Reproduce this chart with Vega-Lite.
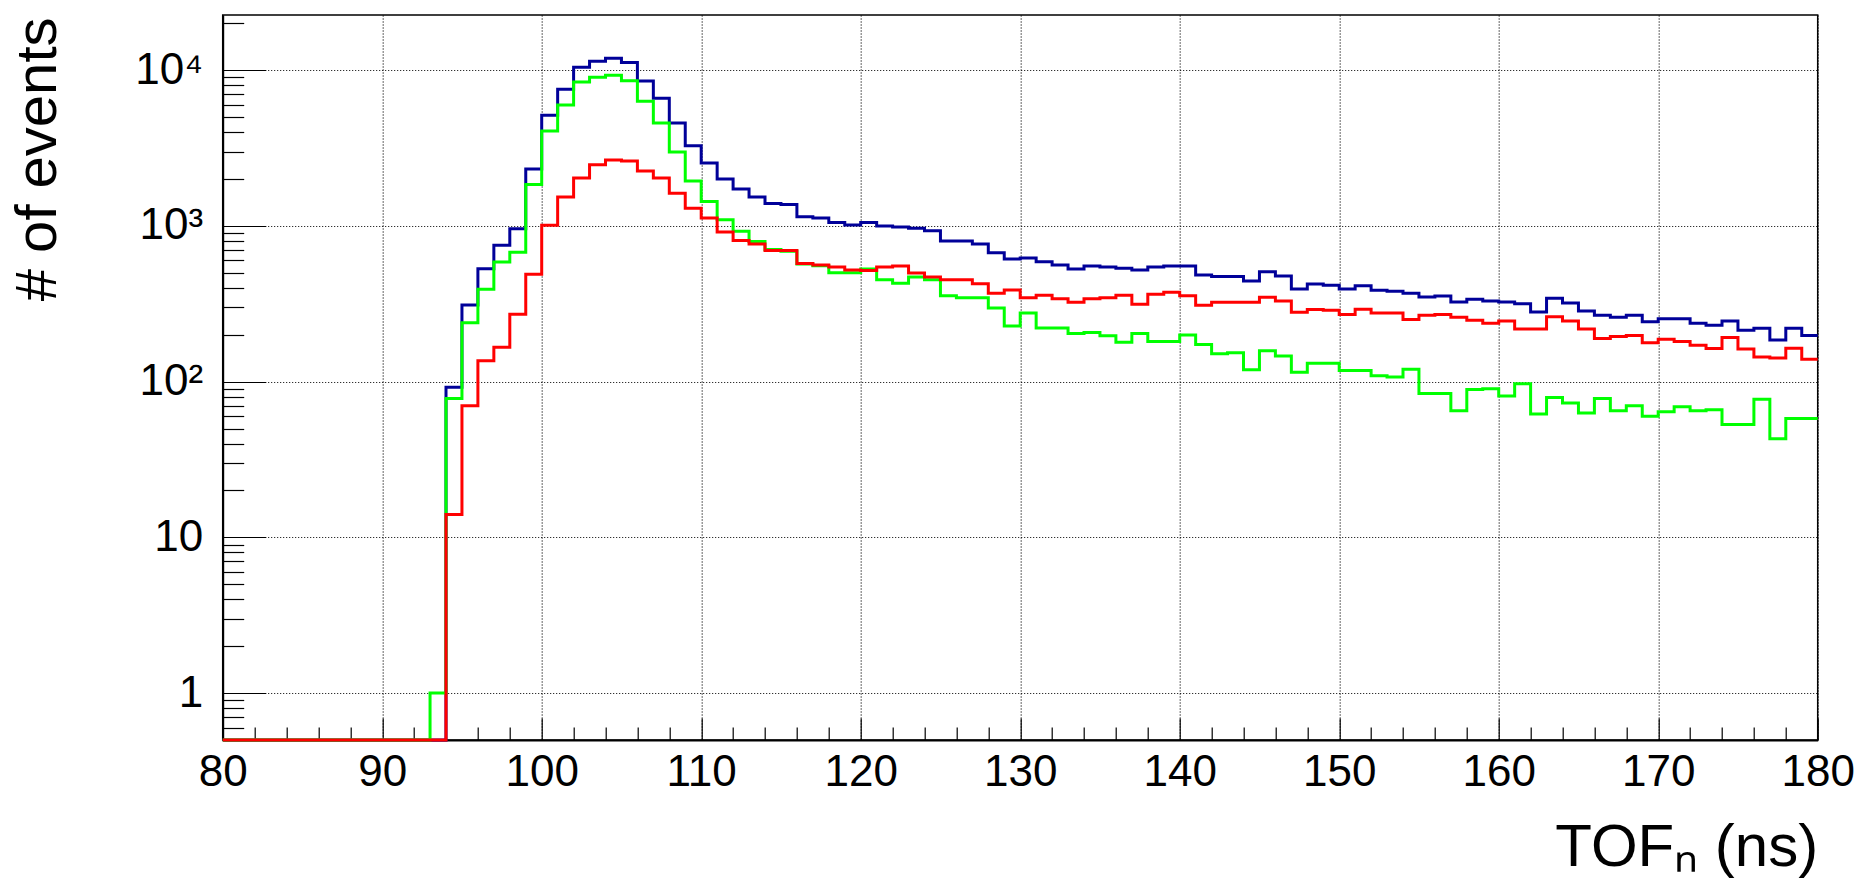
{
  "$schema": "https://vega.github.io/schema/vega-lite/v6.json",
  "width": 1595,
  "height": 725,
  "autosize": {"type": "none"},
  "padding": {"left": 222.7, "top": 15, "right": 43.3, "bottom": 140},
  "background": "white",
  "config": {"view": {"stroke": "black", "strokeWidth": 1.5}, "font": "Liberation Sans"},
  "data": {"values": [
    {"x":80,"b":0,"g":0,"r":0},{"x":81,"b":0,"g":0,"r":0},{"x":82,"b":0,"g":0,"r":0},{"x":83,"b":0,"g":0,"r":0},
    {"x":84,"b":0,"g":0,"r":0},{"x":85,"b":0,"g":0,"r":0},{"x":86,"b":0,"g":0,"r":0},{"x":87,"b":0,"g":0,"r":0},
    {"x":88,"b":0,"g":0,"r":0},{"x":89,"b":0,"g":0,"r":0},{"x":90,"b":0,"g":0,"r":0},{"x":91,"b":0,"g":0,"r":0},
    {"x":92,"b":0,"g":0,"r":0},{"x":93,"b":0,"g":1,"r":0},
    {"x":94,"b":92,"g":78,"r":14},{"x":95,"b":310,"g":239,"r":70},{"x":96,"b":530,"g":392,"r":136},
    {"x":97,"b":750,"g":587,"r":166},{"x":98,"b":957,"g":677,"r":271},{"x":99,"b":2318,"g":1841,"r":489},
    {"x":100,"b":5140,"g":4065,"r":1010},{"x":101,"b":7550,"g":5970,"r":1534},{"x":102,"b":10450,"g":8380,"r":2032},
    {"x":103,"b":11420,"g":9020,"r":2472},{"x":104,"b":11940,"g":9290,"r":2648},{"x":105,"b":11190,"g":8540,"r":2613},
    {"x":106,"b":8530,"g":6320,"r":2253},{"x":107,"b":6610,"g":4570,"r":2032},{"x":108,"b":4570,"g":2980,"r":1619},
    {"x":109,"b":3270,"g":1940,"r":1297},{"x":110,"b":2535,"g":1432,"r":1125},{"x":111,"b":2001,"g":1097,"r":914},
    {"x":112,"b":1726,"g":923,"r":805},{"x":113,"b":1534,"g":793,"r":766},{"x":114,"b":1390,"g":705,"r":695},
    {"x":115,"b":1370,"g":687,"r":695},{"x":116,"b":1143,"g":570,"r":573},{"x":117,"b":1125,"g":555,"r":561},
    {"x":118,"b":1051,"g":500,"r":545},{"x":119,"b":1015,"g":500,"r":521},{"x":120,"b":1051,"g":528,"r":517},
    {"x":121,"b":1000,"g":451,"r":544},{"x":122,"b":985,"g":429,"r":552},{"x":123,"b":966,"g":469,"r":498},
    {"x":124,"b":929,"g":451,"r":469},{"x":125,"b":800,"g":356,"r":451},{"x":126,"b":800,"g":345,"r":451},
    {"x":127,"b":765,"g":345,"r":425},{"x":128,"b":673,"g":297,"r":370},{"x":129,"b":613,"g":228,"r":387},
    {"x":130,"b":622,"g":276,"r":345},{"x":131,"b":589,"g":221,"r":359},{"x":132,"b":560,"g":221,"r":340},
    {"x":133,"b":528,"g":204,"r":323},{"x":134,"b":552,"g":207,"r":340},{"x":135,"b":544,"g":197,"r":345},
    {"x":136,"b":535,"g":179,"r":359},{"x":137,"b":520,"g":204,"r":314},{"x":138,"b":544,"g":181,"r":364},
    {"x":139,"b":552,"g":181,"r":375},{"x":140,"b":552,"g":199,"r":356},{"x":141,"b":483,"g":173,"r":309},
    {"x":142,"b":473,"g":151,"r":323},{"x":143,"b":473,"g":153,"r":323},{"x":144,"b":442,"g":119,"r":323},
    {"x":145,"b":507,"g":158,"r":348},{"x":146,"b":476,"g":146,"r":330},{"x":147,"b":393,"g":115,"r":279},
    {"x":148,"b":423,"g":131,"r":291},{"x":149,"b":416,"g":131,"r":287},{"x":150,"b":394,"g":118,"r":270},
    {"x":151,"b":412,"g":118,"r":292},{"x":152,"b":386,"g":109,"r":276},{"x":153,"b":381,"g":107,"r":276},
    {"x":154,"b":370,"g":120,"r":251},{"x":155,"b":350,"g":84,"r":267},{"x":156,"b":355,"g":84,"r":270},
    {"x":157,"b":325,"g":65,"r":259},{"x":158,"b":338,"g":89,"r":248},{"x":159,"b":330,"g":90,"r":237},
    {"x":160,"b":325,"g":81,"r":245},{"x":161,"b":316,"g":97,"r":218},{"x":162,"b":280,"g":62,"r":218},
    {"x":163,"b":343,"g":79,"r":261},{"x":164,"b":320,"g":73,"r":245},{"x":165,"b":284,"g":63,"r":218},
    {"x":166,"b":267,"g":78,"r":189},{"x":167,"b":259,"g":65,"r":195},{"x":168,"b":267,"g":70,"r":198},
    {"x":169,"b":242,"g":60,"r":178},{"x":170,"b":253,"g":64,"r":187},{"x":171,"b":253,"g":69,"r":181},
    {"x":172,"b":237,"g":65,"r":171},{"x":173,"b":230,"g":66,"r":163},{"x":174,"b":245,"g":53,"r":192},
    {"x":175,"b":214,"g":53,"r":162},{"x":176,"b":220,"g":77,"r":144},{"x":177,"b":185,"g":43,"r":142},
    {"x":178,"b":220,"g":58,"r":164},{"x":179,"b":198,"g":58,"r":139},{"x":180,"b":198,"g":58,"r":139}
  ]},
  "layer": [
    {
      "mark": {"type": "line", "interpolate": "step-after", "color": "#000099", "strokeWidth": 3, "clip": false},
      "encoding": {
        "x": {"field": "x", "type": "quantitative",
          "scale": {"domain": [80, 180], "nice": false, "zero": false},
          "axis": {"orient": "bottom", "values": [80,90,100,110,120,130,140,150,160,170,180], "format": "d",
            "labelFont": "Liberation Sans", "labelFontSize": 44, "labelColor": "black", "labelPadding": 32,
            "labelFlush": false, "labelOverlap": false,
            "tickSize": -22, "tickColor": "black", "tickWidth": 1.2,
            "domainColor": "black", "domainWidth": 2,
            "grid": true, "gridColor": "black", "gridDash": [1, 2], "gridWidth": 1.2, "gridOpacity": 1,
            "title": "TOFₙ (ns)", "titleFont": "Liberation Sans", "titleFontSize": 60, "titleFontWeight": "normal",
            "titleColor": "black", "titleAlign": "right", "titleAnchor": "end", "titleX": 1595, "titleY": 125,
            "titleBaseline": "alphabetic"}},
        "y": {"field": "b", "type": "quantitative",
          "scale": {"type": "log", "domain": [0.5, 22600], "nice": false, "clamp": true},
          "axis": {"orient": "left", "values": [1, 10, 100, 1000, 10000],
            "labelExpr": "datum.value >= 10000 ? '10⁴' : datum.value >= 1000 ? '10³' : datum.value >= 100 ? '10²' : datum.value >= 10 ? '10' : '1'",
            "labelFont": "Liberation Sans", "labelFontSize": 44, "labelColor": "black", "labelPadding": 63,
            "labelFlush": false, "labelOverlap": false,
            "tickSize": -43, "tickColor": "black", "tickWidth": 1.2,
            "domainColor": "black", "domainWidth": 2,
            "grid": true, "gridColor": "black", "gridDash": [1, 2], "gridWidth": 1.2, "gridOpacity": 1,
            "title": "# of events", "titleFont": "Liberation Sans", "titleFontSize": 58, "titleFontWeight": "normal",
            "titleColor": "black", "titleAngle": -90, "titleAlign": "right", "titleAnchor": "end",
            "titleX": -167.7, "titleY": 2, "titleBaseline": "alphabetic"}}
      }
    },
    {
      "mark": {"type": "line", "interpolate": "step-after", "color": "#00ff00", "strokeWidth": 3, "clip": false},
      "encoding": {
        "x": {"field": "x", "type": "quantitative",
          "axis": {"orient": "bottom", "values": [82,84,86,88,92,94,96,98,102,104,106,108,112,114,116,118,122,124,126,128,132,134,136,138,142,144,146,148,152,154,156,158,162,164,166,168,172,174,176,178],
            "labels": false, "grid": false, "domain": false, "tickSize": -13, "tickColor": "black", "tickWidth": 1.2, "title": null}},
        "y": {"field": "g", "type": "quantitative",
          "axis": {"orient": "left", "values": [0.6,0.7,0.8,0.9,2,3,4,5,6,7,8,9,20,30,40,50,60,70,80,90,200,300,400,500,600,700,800,900,2000,3000,4000,5000,6000,7000,8000,9000,20000],
            "labels": false, "grid": false, "domain": false, "tickSize": -21, "tickColor": "black", "tickWidth": 1.2, "title": null}}
      }
    },
    {
      "mark": {"type": "line", "interpolate": "step-after", "color": "#ff0000", "strokeWidth": 3, "clip": false},
      "encoding": {
        "x": {"field": "x", "type": "quantitative", "axis": null},
        "y": {"field": "r", "type": "quantitative", "axis": null}
      }
    }
  ],
  "resolve": {"axis": {"x": "independent", "y": "independent"}}
}
